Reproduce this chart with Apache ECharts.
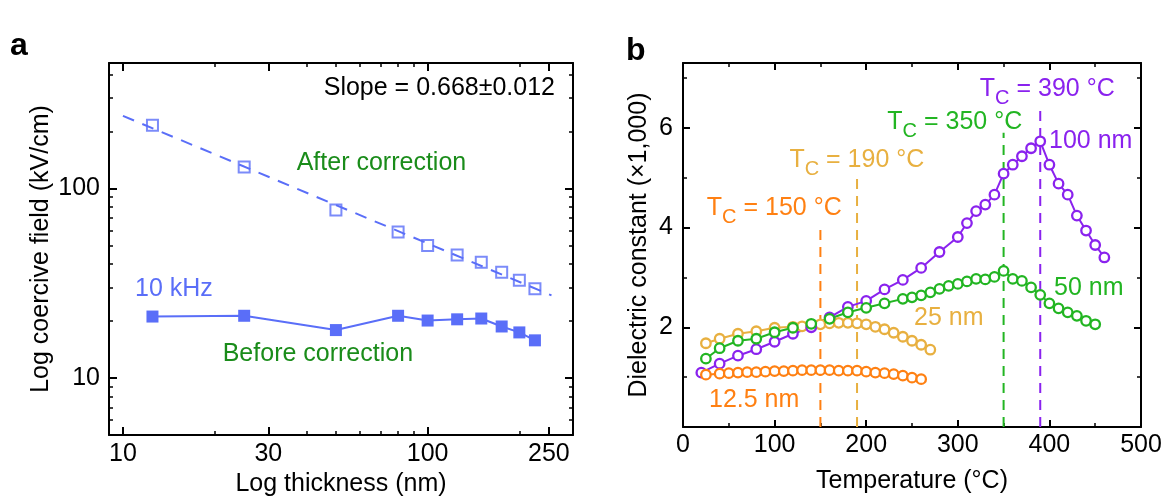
<!DOCTYPE html>
<html>
<head>
<meta charset="utf-8">
<script src="https://cdn.jsdelivr.net/npm/echarts@6/dist/echarts.min.js"></script>
<style>html,body{margin:0;padding:0;background:#fff;}#c{width:1168px;height:502px;}</style>
</head>
<body>
<div id="c"></div>
<script>
// ---------- Panel a data ----------
const thicknessNm   = [12.5, 25, 50, 80, 100, 125, 150, 175, 200, 225];
const fieldAfter    = [216, 130, 77, 59, 50, 44.6, 40.8, 36.1, 32.8, 29.6];
const fieldBefore   = [21.1, 21.3, 17.9, 21.3, 20.1, 20.4, 20.6, 18.7, 17.4, 15.8];
const fitThickness  = [10, 255];
const fitField      = [242, 27.3];
const aXMajor = [10, 30, 100, 250];
const aXMinor = [20, 40, 50, 60, 70, 80, 90, 200];
const aYMajor = [10, 100];
const aYMinor = [5, 6, 7, 8, 9, 20, 30, 40, 50, 60, 70, 80, 90, 200, 300, 400];

// ---------- Panel b data ----------
const temp100 = [20,40,60,80,100,120,140,160,180,200,220,240,260,280,300,310,320,330,340,350,360,370,380,390,400,410,420,430,440,450,460];
const eps100  = [1.09,1.27,1.43,1.56,1.71,1.87,2.0,2.2,2.41,2.53,2.76,2.95,3.19,3.51,3.81,4.09,4.33,4.46,4.66,5.08,5.26,5.43,5.59,5.73,5.26,4.88,4.66,4.24,3.94,3.65,3.40];
const temp50  = [25,40,60,80,100,120,140,160,180,200,220,240,250,260,270,280,290,300,310,320,330,340,350,360,370,380,390,400,410,420,430,440,450];
const eps50   = [1.37,1.58,1.73,1.77,1.90,1.99,2.07,2.17,2.30,2.39,2.48,2.57,2.60,2.64,2.70,2.77,2.83,2.87,2.92,2.97,2.96,3.01,3.13,2.97,2.93,2.80,2.65,2.48,2.38,2.30,2.23,2.13,2.06];
const temp25  = [25,40,60,80,100,120,130,140,150,160,170,180,190,200,210,220,230,240,250,260,270];
const eps25   = [1.68,1.77,1.87,1.92,1.99,2.01,2.02,2.03,2.06,2.08,2.09,2.09,2.08,2.06,2.01,1.96,1.89,1.81,1.73,1.65,1.55];
const temp125 = [25,40,50,60,70,80,90,100,110,120,130,140,150,160,170,180,190,200,210,220,230,240,250,260];
const eps125  = [1.05,1.07,1.08,1.09,1.10,1.10,1.11,1.12,1.12,1.13,1.14,1.14,1.14,1.14,1.13,1.13,1.13,1.11,1.09,1.08,1.06,1.03,0.99,0.96];
const tcTemps = [150, 190, 350, 390];
const tcTops  = [4.0, 5.0, 5.9, 6.45];
const bXMajor = [0, 100, 200, 300, 400, 500];
const bXMinor = [50, 150, 250, 350, 450];
const bYMajor = [0, 2, 4, 6];
const bYLabels = [2, 4, 6];
const bYMinor = [1, 3, 5, 7];

// ---------- styles ----------
const FONT = '"Liberation Sans", Arial, sans-serif';
const FS = 25;
const BLUE = '#5a6ef8';
const GREEN_A = '#1a8c1a';
const PURPLE = '#8a22ee';
const GREEN_B = '#22b522';
const GOLD = '#e8b040';
const ORANGE = '#ff8012';
const tcColors = [ORANGE, GOLD, GREEN_B, PURPLE];

function zip(xs, ys) { return xs.map((x, i) => [x, ys[i]]); }

function mkAxes(dim, grid, base, major, minor, labelVals, o) {
  const pos = dim === 'x' ? ['bottom', 'top'] : ['left', 'right'];
  const out = [];
  pos.forEach((p, i) => {
    out.push(Object.assign({}, base, {
      gridIndex: grid, position: p, offset: 0,
      splitLine: { show: false },
      axisLine: { show: true, onZero: false, lineStyle: { color: '#000', width: 2 } },
      axisTick: { show: true, inside: true, length: o.tickLen, lineStyle: { color: '#000', width: 2 }, customValues: major },
      axisLabel: i === 0 ? { show: true, customValues: labelVals, margin: o.margin, fontSize: FS, color: '#000', fontFamily: FONT } : { show: false },
      name: i === 0 ? o.name : '',
      nameLocation: 'middle', nameGap: o.nameGap,
      nameTextStyle: { fontSize: FS, color: '#000', fontFamily: FONT }
    }));
    out.push(Object.assign({}, base, {
      gridIndex: grid, position: p, offset: 0,
      splitLine: { show: false },
      axisLine: { show: false, onZero: false },
      axisTick: { show: true, inside: true, length: o.minorLen, lineStyle: { color: '#000', width: 1.5 }, customValues: minor },
      axisLabel: { show: false }
    }));
  });
  return out;
}

const xAxes = [].concat(
  mkAxes('x', 0, { type: 'log', logBase: 10, min: 9, max: 300 }, aXMajor, aXMinor, aXMajor,
    { tickLen: 8, minorLen: 4, margin: 7, name: 'Log thickness (nm)', nameGap: 36 }),
  mkAxes('x', 1, { type: 'value', min: 0, max: 500 }, bXMajor, bXMinor, bXMajor,
    { tickLen: 7, minorLen: 4, margin: 6, name: 'Temperature (°C)', nameGap: 42 })
);
const yAxes = [].concat(
  mkAxes('y', 0, { type: 'log', logBase: 10, min: 5, max: 460 }, aYMajor, aYMinor, aYMajor,
    { tickLen: 8, minorLen: 4, margin: 9, name: 'Log coercive field (kV/cm)', nameGap: 55 }),
  mkAxes('y', 1, { type: 'value', min: 0, max: 7.3 }, bYMajor, bYMinor, bYLabels,
    { tickLen: 7, minorLen: 4, margin: 10, name: 'Dielectric constant (×1,000)', nameGap: 31 })
);

function curve(name, xs, ys, color) {
  return {
    name, type: 'line', xAxisIndex: 4, yAxisIndex: 4,
    data: zip(xs, ys), symbol: 'circle', symbolSize: 9.5, showSymbol: true,
    itemStyle: { color: '#fff', borderColor: color, borderWidth: 2.3 },
    lineStyle: { color: color, width: 2 }, emphasis: { disabled: true }
  };
}

const series = [
  { type: 'line', xAxisIndex: 0, yAxisIndex: 0, data: zip(fitThickness, fitField), symbol: 'none',
    lineStyle: { color: BLUE, width: 2, type: [12, 9] } },
  { type: 'scatter', xAxisIndex: 0, yAxisIndex: 0, data: zip(thicknessNm, fieldAfter), symbol: 'rect', symbolSize: 11,
    itemStyle: { color: 'rgba(255,255,255,0)', borderColor: BLUE, borderWidth: 2 } },
  { type: 'line', xAxisIndex: 0, yAxisIndex: 0, data: zip(thicknessNm, fieldBefore), symbol: 'rect', symbolSize: 12,
    itemStyle: { color: BLUE }, lineStyle: { color: BLUE, width: 2 } }
];
tcTemps.forEach((t, i) => {
  series.push({ type: 'line', xAxisIndex: 4, yAxisIndex: 4, data: [[t, 0], [t, tcTops[i]]], symbol: 'none',
    lineStyle: { color: tcColors[i], width: 2, type: [10, 7] } });
});
series.push(curve('25 nm', temp25, eps25, GOLD));
series.push(curve('100 nm', temp100, eps100, PURPLE));
series.push(curve('50 nm', temp50, eps50, GREEN_B));
series.push(curve('12.5 nm', temp125, eps125, ORANGE));

function label(x, y, text, color, align) {
  return { type: 'text', x, y, silent: true,
    style: { text, fill: color, fontSize: FS, fontFamily: FONT, align: align || 'left', verticalAlign: 'middle' } };
}
function tcLabel(x, capCenter, value, color) {
  return { type: 'text', x, y: capCenter - 12.5, silent: true,
    style: {
      text: '{m|T}{s|C}{m| = ' + value + ' °C}', verticalAlign: 'top', align: 'left',
      rich: {
        m: { fontSize: FS, lineHeight: 25, fontFamily: FONT, fill: color, color: color, verticalAlign: 'top' },
        s: { fontSize: 20, lineHeight: 20, padding: [12, 0, 0, 0], fontFamily: FONT, fill: color, color: color, verticalAlign: 'top' }
      }
    } };
}

const graphics = [
  { type: 'text', x: 10, y: 30, style: { text: 'a', fontSize: 32, fontWeight: 'bold', fontFamily: FONT, fill: '#000', verticalAlign: 'alphabetic' } },
  { type: 'text', x: 626, y: 35, style: { text: 'b', fontSize: 32, fontWeight: 'bold', fontFamily: FONT, fill: '#000', verticalAlign: 'alphabetic' } },
  label(555, 88.3, 'Slope = 0.668±0.012', '#000', 'right'),
  label(296.7, 163.3, 'After correction', GREEN_A),
  label(135, 289, '10 kHz', BLUE),
  label(222.7, 354.3, 'Before correction', GREEN_A),
  tcLabel(979.8, 88.7, 390, PURPLE),
  tcLabel(887.3, 122.3, 350, GREEN_B),
  tcLabel(789.4, 160, 190, GOLD),
  tcLabel(706.8, 207.7, 150, ORANGE),
  label(1049, 140.8, '100 nm', PURPLE),
  label(1054, 288.3, '50 nm', GREEN_B),
  label(914, 318.3, '25 nm', GOLD),
  label(709, 400, '12.5 nm', ORANGE)
];

const chart = echarts.init(document.getElementById('c'), null, { renderer: 'canvas' });
chart.setOption({
  animation: false,
  backgroundColor: '#fff',
  textStyle: { fontFamily: FONT },
  grid: [
    { left: 109, top: 63, width: 464, height: 372 },
    { left: 683, top: 63, width: 458, height: 364 }
  ],
  xAxis: xAxes,
  yAxis: yAxes,
  series: series,
  graphic: graphics
});
</script>
</body>
</html>
